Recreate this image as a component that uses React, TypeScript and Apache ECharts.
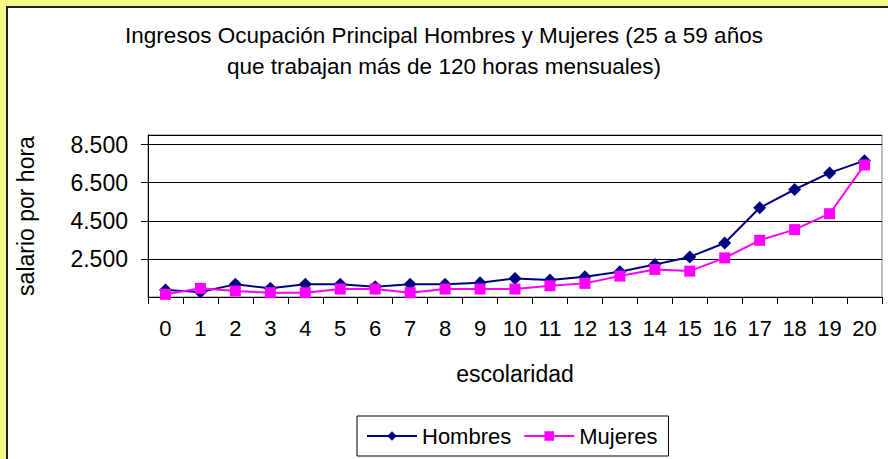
import React, { useEffect, useRef } from "react";
import * as echarts from "echarts";

const categories = ["0","1","2","3","4","5","6","7","8","9","10","11","12","13","14","15","16","17","18","19","20"];
const hombres = [865, 760, 1163, 954, 1163, 1163, 1038, 1163, 1163, 1247, 1476, 1388, 1560, 1821, 2207, 2604, 3335, 5183, 6140, 7011, 7654];
const mujeres = [641, 954, 813, 725, 725, 918, 918, 725, 918, 918, 918, 1090, 1215, 1597, 1946, 1858, 2552, 3476, 4035, 4870, 7429];
const titleText = "Ingresos Ocupación Principal Hombres y Mujeres (25 a 59 años\nque trabajan más de 120 horas mensuales)";

const FONT = "Liberation Sans, Arial, sans-serif";

export default function App() {
  const ref = useRef<HTMLDivElement>(null);
  useEffect(() => {
    document.body.style.margin = "0";
    const chart = echarts.init(ref.current!, null, { renderer: "svg" });
    chart.setOption({
      animation: false,
      backgroundColor: "#F7F98B",
      textStyle: { fontFamily: FONT },
      graphic: [
        {
          type: "rect",
          z: -10,
          shape: { x: 7, y: 7, width: 920, height: 480 },
          style: { fill: "#ffffff", stroke: "#222222", lineWidth: 2 },
        },
      ],
      title: {
        text: titleText,
        left: "center",
        top: 15,
        textStyle: { fontFamily: FONT, fontSize: 22.5, fontWeight: "normal", color: "#000", lineHeight: 31 },
      },
      legend: {
        left: 357,
        top: 416,
        padding: [9, 11, 9, 9],
        itemGap: 12,
        itemWidth: 50,
        itemHeight: 12,
        borderColor: "#000",
        borderWidth: 1,
        backgroundColor: "#fff",
        textStyle: { fontFamily: FONT, fontSize: 22, color: "#000" },
        data: ["Hombres", "Mujeres"],
      },
      grid: {
        left: 148,
        right: 6,
        top: 135,
        bottom: 162,
        show: true,
        borderColor: "#808080",
        borderWidth: 1,
        backgroundColor: "#fff",
      },
      xAxis: {
        type: "category",
        data: categories,
        boundaryGap: true,
        name: "escolaridad",
        nameLocation: "middle",
        nameGap: 65,
        nameTextStyle: { fontFamily: FONT, fontSize: 23, color: "#000" },
        axisLine: { lineStyle: { color: "#000", width: 1 } },
        axisTick: { show: true, length: 7, alignWithLabel: false, interval: 0, lineStyle: { color: "#000" } },
        axisLabel: { interval: 0, margin: 20, fontFamily: FONT, fontSize: 22, color: "#000" },
        splitLine: { show: false },
      },
      yAxis: {
        type: "value",
        min: 500,
        max: 9000,
        interval: 2000,
        name: "salario por hora",
        nameLocation: "middle",
        nameGap: 111,
        nameTextStyle: { fontFamily: FONT, fontSize: 23, color: "#000" },
        axisLine: { show: true, lineStyle: { color: "#000", width: 1 } },
        axisTick: { show: true, length: 7, lineStyle: { color: "#000" } },
        axisLabel: {
          showMinLabel: false,
          showMaxLabel: false,
          margin: 20,
          fontFamily: FONT,
          fontSize: 23,
          color: "#000",
          formatter: (v: number) => String(v).replace(/\B(?=(\d{3})+(?!\d))/g, "."),
        },
        splitLine: { show: true, lineStyle: { color: "#000", width: 1 } },
      },
      series: [
        {
          name: "Hombres",
          type: "line",
          data: hombres,
          symbol: "diamond",
          symbolSize: 13,
          itemStyle: { color: "#000080" },
          lineStyle: { color: "#000080", width: 2 },
        },
        {
          name: "Mujeres",
          type: "line",
          data: mujeres,
          symbol: "rect",
          symbolSize: 11,
          itemStyle: { color: "#FF00FF" },
          lineStyle: { color: "#FF00FF", width: 2 },
        },
      ],
    });
    return () => chart.dispose();
  }, []);
  return <div ref={ref} style={{ width: 888, height: 459 }} />;
}
